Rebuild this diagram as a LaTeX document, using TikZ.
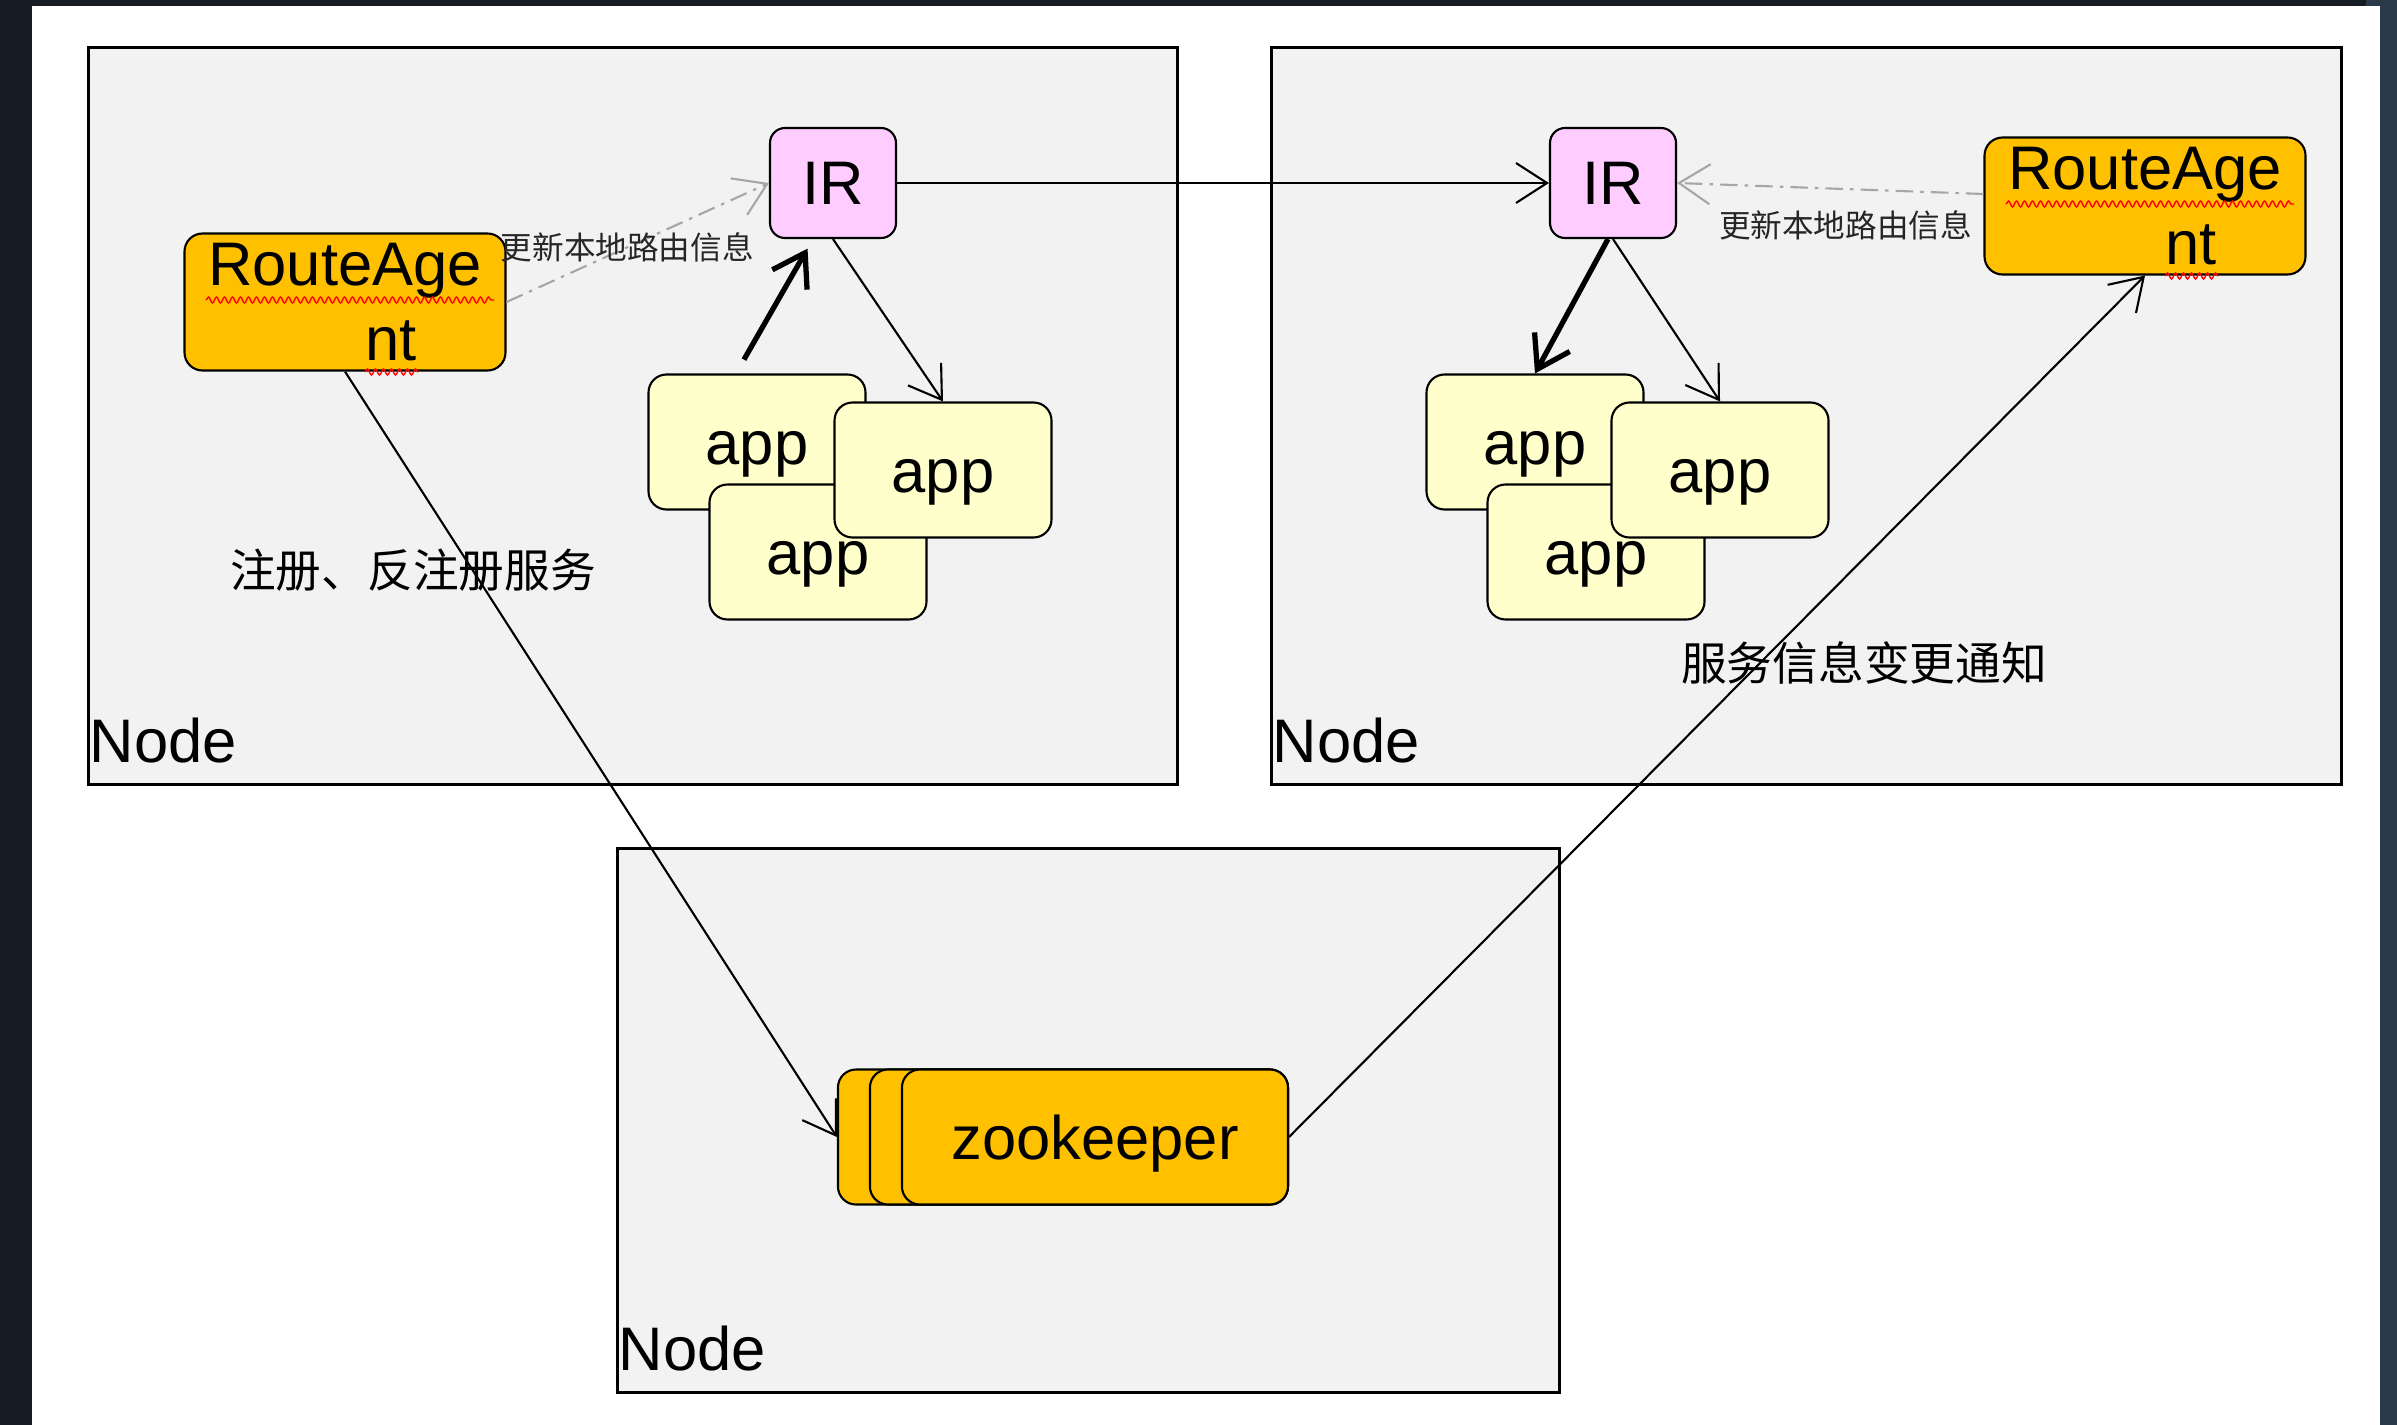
\documentclass[tikz,border=0pt]{standalone}
\usepackage{fontspec}
\setmainfont{Liberation Sans}
\newfontfamily\cjk{Noto Sans CJK SC}
\usetikzlibrary{arrows.meta,positioning,decorations.pathmorphing}

\definecolor{framedark}{HTML}{171B23}
\definecolor{frameblue}{HTML}{2B3A4B}
\definecolor{boxgray}{HTML}{F2F2F2}
\definecolor{agentorange}{HTML}{FFC000}
\definecolor{irpink}{HTML}{FFCCFF}
\definecolor{appyellow}{HTML}{FFFFCC}

\tikzset{
  bigfont/.style={font=\fontsize{17.5}{21.3}\selectfont},
  nodebox/.style={draw=black, line width=0.8pt, fill=boxgray, anchor=north west, inner sep=0pt},
  nodelabel/.style={bigfont, anchor=base west, inner sep=0pt},
  irbox/.style={draw, line width=0.6pt, fill=irpink, rounded corners=1.5mm, minimum width=12.6mm, minimum height=11mm, inner sep=0pt, bigfont},
  agent/.style={draw, line width=0.6pt, fill=agentorange, rounded corners=1.8mm, minimum width=32.1mm, minimum height=13.7mm, inner sep=0pt, align=center, bigfont},
  appbox/.style={draw, line width=0.6pt, fill=appyellow, rounded corners=1.8mm, minimum width=21.7mm, minimum height=13.5mm, inner sep=0pt, text height=13pt, text depth=0pt, bigfont},
  zkbox/.style={draw, line width=0.6pt, fill=agentorange, rounded corners=1.8mm, minimum height=13.5mm, anchor=east, inner sep=0pt, text height=13pt, text depth=0pt, bigfont},
  link/.style={line width=0.6pt, -{Straight Barb[length=3.1mm,width=4mm]}},
  boldlink/.style={line width=1.5pt, -{Straight Barb[length=3.1mm,width=4mm]}},
  update/.style={draw=black!35, line width=0.6pt, dash pattern=on 5pt off 2pt on 1pt off 2pt, -{Straight Barb[length=3.1mm,width=4mm]}},
  squiggle/.style={red, line width=0.4pt, decorate, decoration={snake, segment length=0.8mm, amplitude=0.3mm}},
  smallcn/.style={font=\cjk\fontsize{9}{10}\selectfont, text=black!85, inner sep=0pt},
  cnlabel/.style={font=\cjk\fontsize{13}{15}\selectfont, inner sep=0pt}
}

\begin{document}
\begin{tikzpicture}[x=0.1mm, y=-0.1mm]
% screen frame
\fill[framedark] (0,0) rectangle (2397,1425);
\fill[frameblue] (2380,0) rectangle (2397,1425);
\fill[frameblue] (2366,0) rectangle (2380,6);
\fill[white] (32,6) rectangle (2380,1425);

% hosts
\node[nodebox, minimum width=108.9mm, minimum height=73.7mm] (host1) at (87,46) {};
\node[nodebox, minimum width=107mm, minimum height=73.7mm] (host2) at (1270,46) {};
\node[nodebox, minimum width=94.2mm, minimum height=54.4mm] (host3) at (616,847) {};
\node[nodelabel] (host1lbl) at (89,762) {Node};
\node[nodelabel] (host2lbl) at (1272,762) {Node};
\node[nodelabel] (host3lbl) at (618,1370) {Node};

% left host
\node[irbox] (ir1) at (833,183) {IR};
\node[agent] (ra1) at (345,302) {RouteAge\\\hspace*{9.2mm}nt};
\node[appbox] (appa1) at (757,442) {app};
\node[appbox] (appb1) at (818,552) {app};
\node[appbox] (appc1) at (943,470) {app};

% right host
\node[irbox] (ir2) at (1613,183) {IR};
\node[agent] (ra2) at (2145,206) {RouteAge\\\hspace*{9.2mm}nt};
\node[appbox] (appa2) at (1535,442) {app};
\node[appbox] (appb2) at (1596,552) {app};
\node[appbox] (appc2) at (1720,470) {app};

% zookeeper stack
\node[zkbox, minimum width=45mm] (zk3) at (1289,1137) {};
\node[zkbox, minimum width=41.8mm] (zk2) at (1289,1137) {};
\node[zkbox, minimum width=38.6mm] (zk1) at (1289,1137) {zookeeper};

% spell check marks
\draw[squiggle] ([shift={(-139,-2)}]ra1.center) -- ([shift={(149,-2)}]ra1.center);
\draw[squiggle] ([shift={(20,70)}]ra1.center) -- ([shift={(73,70)}]ra1.center);
\draw[squiggle] ([shift={(-139,-2)}]ra2.center) -- ([shift={(149,-2)}]ra2.center);
\draw[squiggle] ([shift={(20,70)}]ra2.center) -- ([shift={(73,70)}]ra2.center);

% connectors
\draw[link] (ir1.east) -- (ir2.west);
\draw[update] (ra1.east) -- node[smallcn, pos=0.46] (upd1) {更新本地路由信息} (ir1.west);
\draw[update] ([yshift=1.2mm]ra2.west) -- node[smallcn, pos=0.45, below=2.1mm] (upd2) {更新本地路由信息} (ir2.east);
\draw[boldlink, shorten <=1.6mm, shorten >=1.1mm] ([xshift=-2.1mm]appa1.north) -- ([xshift=-2mm]ir1.south);
\draw[link] (ir1.south) -- (appc1.north);
\draw[boldlink] ([xshift=-0.5mm]ir2.south) -- (appa2.north);
\draw[link] (ir2.south) -- (appc2.north);
\draw[link] (ra1.south) -- (zk3.west);
\draw[link] (zk1.east) -- (ra2.south);

\node[cnlabel] (reglbl) at (413,570) {注册、反注册服务};
\node[cnlabel] (notifylbl) at (1864,663) {服务信息变更通知};
\end{tikzpicture}
\end{document}
